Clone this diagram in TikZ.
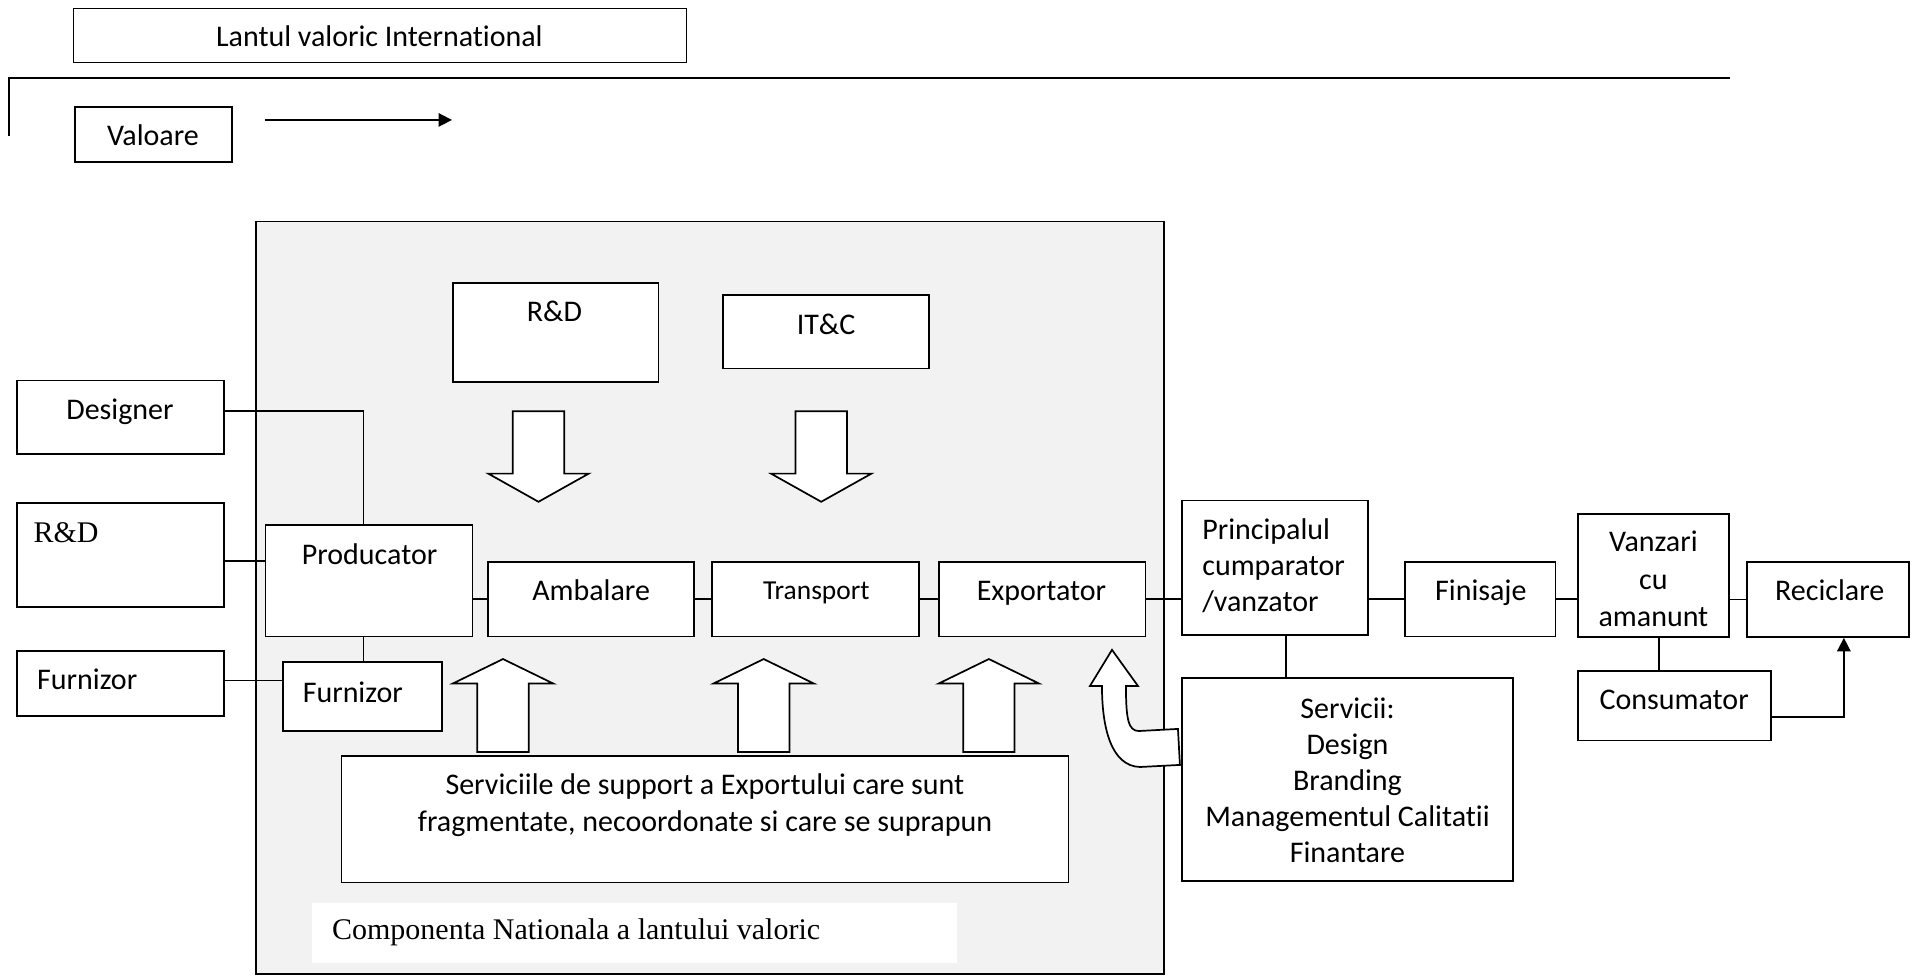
\documentclass[tikz,border=0pt]{standalone}
\usepackage{fontspec}
\setmainfont{Carlito}[Ligatures=NoCommon]
\newfontfamily\timesfont{Liberation Serif}
\usetikzlibrary{fit,arrows.meta}
\definecolor{panelgray}{RGB}{242,242,242}
\tikzset{
  box/.style={draw, line width=0.7pt, fill=white, inner sep=0pt},
  txt/.style={inner sep=0pt, anchor=base, font=\fontsize{12.25}{14.75}\selectfont},
  serif/.style={inner sep=0pt, anchor=base west, font=\timesfont\fontsize{12.25}{14.75}\selectfont},
  link/.style={line width=0.7pt},
  tip/.style={-{Triangle[length=5.5pt,width=5.5pt]}},
  fatarrow/.style={draw, fill=white, line width=0.7pt, line join=miter},
  dnarrow/.pic={\path[fatarrow] (-21,-74) -- (21,-74) -- (21,-23) -- (41,-23) -- (0,0) -- (-41,-23) -- (-21,-23) -- cycle;},
  uparrow/.pic={\path[fatarrow] (-21,76) -- (21,76) -- (21,20) -- (41,20) -- (0,0) -- (-41,20) -- (-21,20) -- cycle;}
}
\begin{document}
\begin{tikzpicture}[x=0.5pt,y=-0.5pt]
\useasboundingbox (0,0) rectangle (1568,797);

% national component panel
\node[fit={(209,181) (951,796)}, draw, fill=panelgray, line width=0.7pt, inner sep=0pt] (panel) {};
\node[fit={(255,738) (782,787)}, fill=white, inner sep=0pt] (lbl) {};
\node[serif] (lbltext) at (271,768) {Componenta Nationala a lantului valoric};

% header
\node[box, fit={(60,7) (561,51)}] (title) {};
\node[txt] (titletext) at (310,38) {Lantul valoric International};
\coordinate (frameA) at (7.4,111);
\coordinate (frameB) at (7.4,63.7);
\coordinate (frameC) at (1413.5,63.7);
\draw[link] (frameA) -- (frameB) -- (frameC);
\node[box, fit={(61.3,87.4) (189.6,132.4)}] (val) {};
\node[txt] (valtext) at (125,119) {Valoare};
\coordinate (flowA) at (216.5,98);
\coordinate (flowB) at (369.3,98);
\draw[link,tip] (flowA) -- (flowB);

% boxes (multi-line labels are anchored on the baseline of their last line)
\node[box, fit={(370,231) (538,312)}] (rdin) {};
\node[txt] (rdintext) at (453,263) {R\&D};
\node[box, fit={(591,241) (759,301)}] (itc) {};
\node[txt] (itctext) at (675,273) {IT\&C};

\node[box, fit={(14,311) (183,371)}] (des) {};
\node[txt] (destext) at (98,343) {Designer};
\node[box, fit={(14,411) (183,496)}] (rdl) {};
\node[serif] (rdltext) at (27,443) {R\&D};
\node[box, fit={(14,532) (183,585)}] (furl) {};
\node[txt, anchor=base west] (furltext) at (30,563) {Furnizor};

\node[box, fit={(217,429) (386,520)}] (prod) {};
\node[txt] (prodtext) at (302,461) {Producator};
\node[box, fit={(231,541) (361,597)}] (furi) {};
\node[txt, anchor=base west] (furitext) at (247,574) {Furnizor};

\node[box, fit={(399,459) (567,520)}] (amb) {};
\node[txt] (ambtext) at (483,491) {Ambalare};
\node[box, fit={(582,459) (751,520)}] (trans) {};
\node[txt, font=\fontsize{11.2}{13.5}\selectfont] (transtext) at (667,490) {Transport};
\node[box, fit={(767,459) (936,520)}] (exp) {};
\node[txt] (exptext) at (851,491) {Exportator};

\node[box, fit={(966,409) (1118,519)}] (princ) {};
\node[txt, anchor=base west, align=left] (princtext) at (982,500) {Principalul\\cumparator\\/vanzator};
\node[box, fit={(1148,459) (1271,520)}] (fin) {};
\node[txt] (fintext) at (1210,491) {Finisaje};
\node[box, fit={(1289.3,420) (1412.7,520.5)}] (vanz) {};
\node[txt, align=center, font=\fontsize{12.25}{15.25}\selectfont] (vanztext) at (1351,512) {Vanzari\\cu\\amanunt};
\node[box, fit={(1427.4,459) (1559.8,520.5)}] (rec) {};
\node[txt] (rectext) at (1495,491) {Reciclare};

\node[box, fit={(966,554) (1236,720)}] (serv) {};
\node[txt, align=center] (servtext) at (1101,705) {Servicii:\\Design\\Branding\\Managementul Calitatii\\Finantare};
\node[box, fit={(1289.3,548.3) (1447,605)}] (cons) {};
\node[txt] (constext) at (1368,580) {Consumator};

\node[box, fit={(279,617.7) (873,721)}] (supp) {};
\node[txt, align=center, font=\fontsize{12.25}{15}\selectfont] (supptext) at (576,679) {Serviciile de support a Exportului care sunt\\fragmentate, necoordonate si care se suprapun};

% connectors
\coordinate (desout) at ([shift={(0,-5)}]des.east);
\coordinate (prodtop) at ([shift={(-4.5,0)}]prod.north);
\draw[link] (desout) -| (prodtop);
\coordinate (rdlout) at ([shift={(0,5)}]rdl.east);
\draw[link] (rdlout) -- (rdlout -| prod.west);
\coordinate (furlout) at ([shift={(0,-2.5)}]furl.east);
\draw[link] (furlout) -- (furlout -| furi.west);
\draw[link] (prodtop |- prod.south) -- (prodtop |- furi.north);
\draw[link] (amb.west) -- (amb.west -| prod.east);
\draw[link] (amb.east) -- (trans.west);
\draw[link] (trans.east) -- (exp.west);
\draw[link] (exp.east) -- (exp.east -| princ.west);
\draw[link] (fin.west) -- (fin.west -| princ.east);
\draw[link] (fin.east) -- (fin.east -| vanz.west);
\draw[link] (rec.west) -- (rec.west -| vanz.east);
\coordinate (princdown) at ([shift={(9,0)}]princ.south);
\draw[link] (princdown) -- (princdown |- serv.north);
\coordinate (vanzdown) at ([shift={(4.5,0)}]vanz.south);
\draw[link] (vanzdown) -- (vanzdown |- cons.north);
\coordinate (consout) at ([shift={(0,9.2)}]cons.east);
\coordinate (recin) at ([shift={(13,0)}]rec.south);
\draw[link,tip] (consout) -| (recin);

% block arrows
\pic at (440,410) {dnarrow};
\pic at (671,410) {dnarrow};
\pic at (411,538.5) {uparrow};
\pic at (624,538.5) {uparrow};
\pic at (808,538.5) {uparrow};

% bent arrow from the services box up to the exporter
\path[fatarrow] (908.6,531) -- (929.8,560.5) -- (920,560.5)
  .. controls (920,588) and (922,597.3) .. (930.6,597.3)
  -- (962.5,595.6) -- (964.1,625) -- (931.5,626.7)
  .. controls (908,626) and (900.4,595) .. (900.4,560.5)
  -- (890.6,560.5) -- cycle;
\end{tikzpicture}
\end{document}
